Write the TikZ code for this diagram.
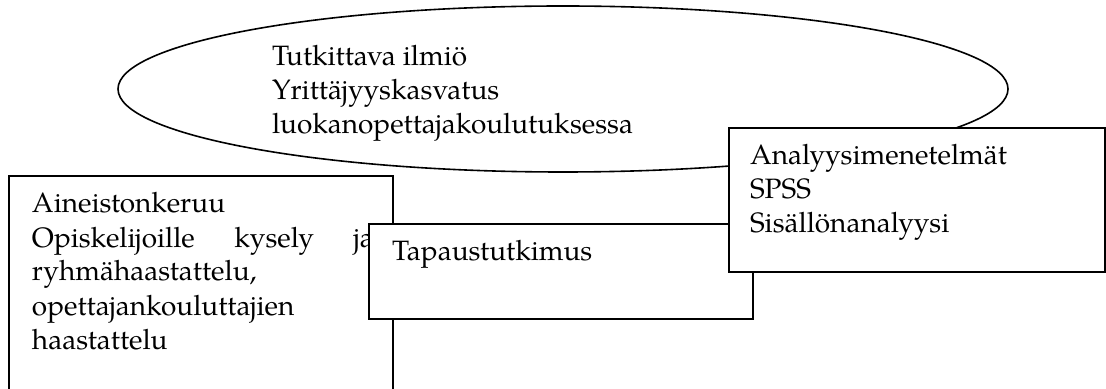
\documentclass[tikz,border=0pt]{standalone}
\usepackage{fontspec}
\setmainfont{TeX Gyre Pagella}
\usetikzlibrary{shapes.geometric}
\tikzset{
  x=0.5pt, y=-0.5pt,
  shapebox/.style={draw=black, line width=0.8pt, fill=white, rectangle, inner sep=0pt, outer sep=0pt},
  ovalbox/.style={draw=black, line width=0.8pt, fill=white, ellipse, inner sep=0pt, outer sep=0pt},
  label text/.style={anchor=base west, inner sep=0pt, outer sep=0pt, align=left,
    font=\fontsize{14pt}{17pt}\selectfont}
}
\begin{document}
\begin{tikzpicture}
\useasboundingbox (0,0) rectangle (1106,389);
\clip (0,0) rectangle (1106,389);
% ellipse (anchor base west of a multi-line node = baseline of its last line)
\node[ovalbox, minimum width=445pt, minimum height=83pt] (ilmio) at (563,89) {};
\node[label text] (ilmiotext) at (272,134) {Tutkittava ilmiö\\Yrittäjyyskasvatus\\luokanopettajakoulutuksessa};
% left box
\node[shapebox, minimum width=192pt, minimum height=122pt] (keruu) at (201,298) {};
\node[label text] (keruutext) at (32,349) {Aineistonkeruu\\\makebox[171pt][s]{Opiskelijoille kysely ja}\\ryhmähaastattelu,\\opettajankouluttajien\\haastattelu};
% middle box
\node[shapebox, minimum width=192pt, minimum height=47.5pt] (tapaus) at (561,271.5) {};
\node[label text] (tapaustext) at (392,261) {Tapaustutkimus};
% right box
\node[shapebox, minimum width=188pt, minimum height=72pt] (analyysi) at (917,200) {};
\node[label text] (analyysitext) at (750,233) {Analyysimenetelmät\\SPSS\\Sisällönanalyysi};
\end{tikzpicture}
\end{document}
